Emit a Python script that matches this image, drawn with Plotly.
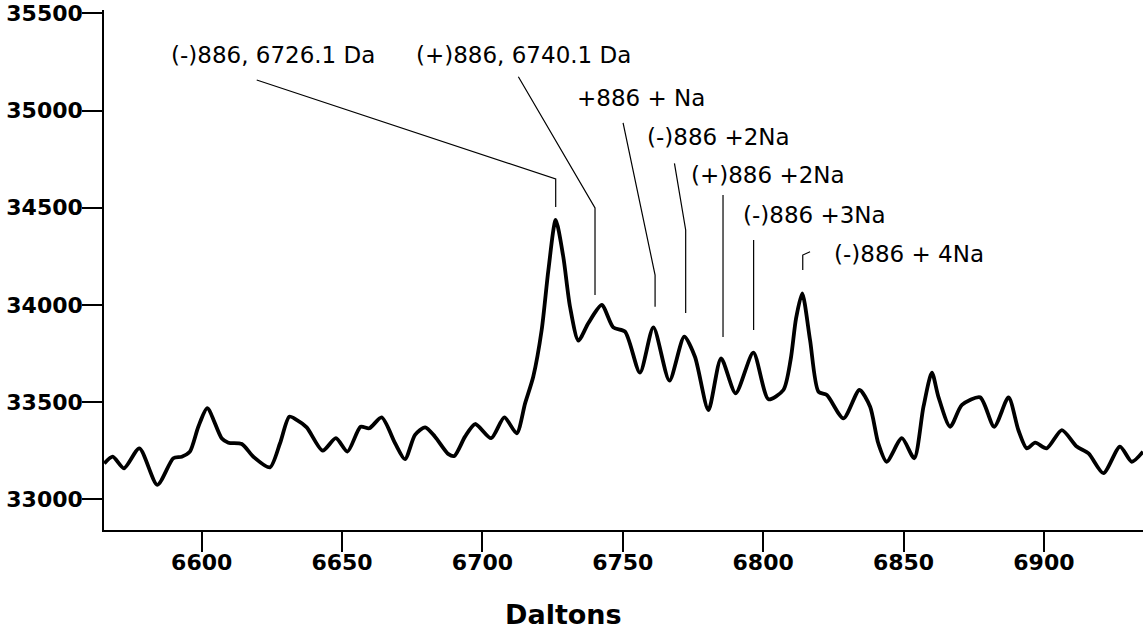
import plotly.graph_objects as go

# ---- spectrum data ----
daltons = [6565.3, 6568.3, 6572.3, 6577.8, 6584.2, 6589.9, 6592.9, 6595.8, 6598.8, 6602.0,
           6607.1, 6609.5, 6614.3, 6618.4, 6624.3, 6627.9, 6631.2, 6633.8, 6637.4, 6643.1,
           6647.8, 6651.9, 6656.6, 6659.7, 6664.1, 6668.9, 6672.4, 6676.0, 6679.6, 6683.1,
           6687.9, 6690.0, 6693.8, 6697.4, 6703.1, 6707.8, 6712.2, 6715.2, 6718.1, 6721.1,
           6723.5, 6726.1, 6728.8, 6731.2, 6734.2, 6737.7, 6742.5, 6746.6, 6750.8, 6756.1,
           6760.9, 6766.6, 6771.9, 6775.7, 6780.5, 6785.0, 6790.2, 6796.5, 6801.9, 6807.2,
           6809.8, 6811.7, 6813.9, 6816.7, 6819.7, 6822.7, 6828.6, 6834.3, 6838.1, 6841.0,
           6844.0, 6849.4, 6853.8, 6857.1, 6860.1, 6862.4, 6866.6, 6870.8, 6877.3, 6882.3,
           6887.4, 6890.9, 6893.9, 6896.9, 6901.0, 6906.4, 6911.7, 6915.9, 6921.2, 6927.1,
           6931.3, 6935.3]
intensity = [33185, 33220, 33160, 33263, 33075, 33212, 33220, 33246, 33374, 33469,
             33315, 33292, 33285, 33220, 33165, 33289, 33426, 33409, 33371, 33251,
             33315, 33246, 33374, 33366, 33422, 33289, 33207, 33332, 33371, 33323,
             33233, 33224, 33323, 33388, 33315, 33422, 33340, 33494, 33631, 33871,
             34180, 34437, 34248, 33991, 33817, 33906, 34000, 33885, 33863, 33652,
             33885, 33611, 33837, 33734, 33460, 33726, 33546, 33755, 33515, 33563,
             33720, 33930, 34060, 33820, 33554, 33537, 33417, 33563, 33477, 33289,
             33194, 33315, 33212, 33477, 33652, 33529, 33374, 33486, 33525, 33374,
             33525, 33357, 33263, 33292, 33263, 33357, 33272, 33237, 33135, 33272,
             33194, 33246]

x_ticks = [6600, 6650, 6700, 6750, 6800, 6850, 6900]
y_ticks = [33000, 33500, 34000, 34500, 35000, 35500]

# ---- peak annotations ----
ann_labels = ["(-)886, 6726.1 Da", "(+)886, 6740.1 Da", "+886 + Na", "(-)886 +2Na",
              "(+)886 +2Na", "(-)886 +3Na", "(-)886 + 4Na"]
ann_label_x = [6588.5, 6675.5, 6733.0, 6757.8, 6773.6, 6792.0, 6824.6]   # left edge of text
ann_label_y = [35285, 35285, 35064, 34864, 34668, 34463, 34262]
# leader polylines: x list and y list per annotation
leader_x = [[6619.6, 6726.1, 6726.1],
            [6712.8, 6740.1, 6740.1],
            [6750.1, 6761.5, 6761.5],
            [6768.4, 6772.4, 6772.4],
            [6785.7, 6785.7],
            [6796.6, 6796.6],
            [6816.7, 6814.1, 6814.1]]
leader_y = [[35157, 34648, 34504],
            [35174, 34499, 34051],
            [34937, 34154, 33991],
            [34728, 34386, 33959],
            [34566, 33836],
            [34334, 33872],
            [34274, 34257, 34180]]

FONT = "DejaVu Sans"

fig = go.Figure()
fig.add_trace(go.Scatter(x=daltons, y=intensity, mode="lines",
                         line=dict(color="black", width=3.8, shape="spline", smoothing=0.7),
                         showlegend=False, hoverinfo="skip"))

for lx, ly in zip(leader_x, leader_y):
    fig.add_trace(go.Scatter(x=lx, y=ly, mode="lines",
                             line=dict(color="black", width=1.2),
                             showlegend=False, hoverinfo="skip"))

for txt, ax, ay in zip(ann_labels, ann_label_x, ann_label_y):
    fig.add_annotation(x=ax, y=ay, xref="x", yref="y", text=txt, showarrow=False,
                       xanchor="left", yanchor="middle",
                       font=dict(family=FONT, size=23, color="black"))

fig.add_annotation(x=0.4418, y=-0.1615, xref="paper", yref="paper",
                   text="<b>Daltons</b>", showarrow=False, xanchor="center", yanchor="middle",
                   height=26, valign="middle",
                   font=dict(family=FONT, size=27, color="black"))

fig.update_layout(
    width=1143, height=628,
    margin=dict(l=104, r=0, t=10, b=98),
    paper_bgcolor="white", plot_bgcolor="white",
    xaxis=dict(range=[6565.2, 6935.3], tickvals=x_ticks,
               ticktext=[f"<b>{v}</b>" for v in x_ticks],
               ticks="outside", ticklen=20, tickwidth=1.5, tickcolor="black",
               ticklabelstandoff=-8,
               showline=True, linecolor="black", linewidth=2,
               showgrid=False, zeroline=False,
               tickfont=dict(family=FONT, size=22, color="black")),
    yaxis=dict(range=[32843, 35517], tickvals=y_ticks,
               ticktext=[f"<b>{v}</b>" for v in y_ticks],
               ticks="outside", ticklen=20, tickwidth=1.5, tickcolor="black",
               ticklabelstandoff=-5,
               showline=True, linecolor="black", linewidth=1.5,
               showgrid=False, zeroline=False,
               tickfont=dict(family=FONT, size=22, color="black")),
)

fig.write_html("out.html")
